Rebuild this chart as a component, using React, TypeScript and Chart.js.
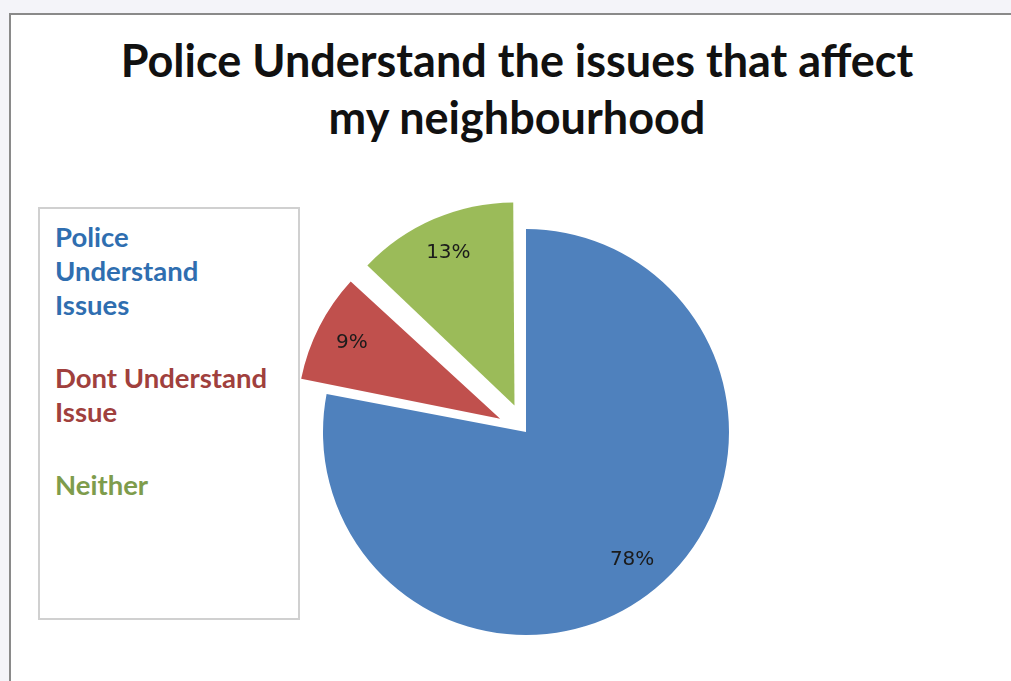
import React, { useEffect, useRef } from "react";
import { Chart, registerables } from "chart.js";

Chart.register(...registerables);

const titleLines = ["Police Understand the issues that affect", "my neighbourhood"];
const categories = ["Police Understand Issues", "Dont Understand Issue", "Neither"];
const legendLines = [["Police", "Understand", "Issues"], ["Dont Understand", "Issue"], ["Neither"]];
const values = [78, 9, 13];
const sliceColors = ["#4f81bd", "#c0504d", "#9bbb59"];
const legendColors = ["#2f6eb0", "#a0403d", "#7e9c4c"];
// Chart.js 4 translates an arc by offset / 4 pixels
const explode = [0, 116, 116];
const pieRadius = 203;

// Chart.js enlarges the outer radius of exploded arcs; keep them at the pie radius
const explodeFixPlugin = {
  id: "explodeFix",
  beforeDatasetsDraw(chart: any) {
    const meta = chart.getDatasetMeta(0);
    meta.data.forEach((arc: any) => {
      const off = (arc.options.offset || 0) / 4;
      if (!off) return;
      const circ = arc.circumference;
      const fix = 1 - Math.sin(Math.min(Math.PI, circ || 0));
      arc.outerRadius = pieRadius - off * fix;
    });
  },
};

const pctPlugin = {
  id: "pctLabels",
  afterDatasetsDraw(chart: any) {
    const ctx = chart.ctx;
    const meta = chart.getDatasetMeta(0);
    ctx.save();
    ctx.font = "20px 'DejaVu Sans'";
    ctx.fillStyle = "#1b1b1b";
    ctx.textAlign = "center";
    ctx.textBaseline = "middle";
    meta.data.forEach((arc: any, i: number) => {
      const { x, y, startAngle, endAngle } = arc.getProps(
        ["x", "y", "startAngle", "endAngle"],
        true
      );
      const mid = (startAngle + endAngle) / 2;
      const off = (arc.options.offset || 0) / 4;
      const d = off + pieRadius * 0.82;
      ctx.fillText(values[i] + "%", x + Math.cos(mid) * d, y + Math.sin(mid) * d);
    });
    ctx.restore();
  },
};

export default function App() {
  const ref = useRef<HTMLCanvasElement>(null);
  useEffect(() => {
    if (!ref.current) return;
    const chart = new Chart(ref.current, {
      type: "pie",
      data: {
        labels: categories,
        datasets: [
          {
            data: values,
            backgroundColor: sliceColors,
            borderWidth: 0,
            offset: explode,
            radius: pieRadius,
          } as any,
        ],
      },
      options: {
        animation: false,
        responsive: false,
        radius: pieRadius,
        layout: { padding: { left: 300, right: 259, top: 200, bottom: 17 } },
        plugins: {
          legend: { display: false },
          tooltip: { enabled: false },
          title: { display: false },
        },
      } as any,
      plugins: [explodeFixPlugin, pctPlugin],
    });
    return () => chart.destroy();
  }, []);

  return (
    <div
      style={{
        position: "fixed",
        left: 0,
        top: 0,
        width: 1011,
        height: 681,
        background: "#f4f4f9",
        overflow: "hidden",
      }}
    >
      <div
        style={{
          position: "absolute",
          left: 9,
          top: 13,
          width: 1100,
          height: 800,
          background: "#ffffff",
          borderLeft: "2px solid #8a8a8a",
          borderTop: "2px solid #8a8a8a",
        }}
      />
      <div
        style={{
          position: "absolute",
          left: 17,
          width: 1000,
          top: 32,
          textAlign: "center",
          fontFamily: "Lato, 'Open Sans', sans-serif",
          fontWeight: 700,
          fontSize: 45,
          lineHeight: "57px",
          color: "#111",
        }}
      >
        {titleLines.map((t, i) => (
          <div key={i}>{t}</div>
        ))}
      </div>
      <div
        style={{
          position: "absolute",
          left: 38,
          top: 207,
          width: 258,
          height: 409,
          border: "2px solid #d0d0d0",
          background: "#fff",
          boxSizing: "content-box",
          fontFamily: "Lato, 'Open Sans', sans-serif",
          fontWeight: 700,
          fontSize: 27.5,
          lineHeight: "34px",
        }}
      >
        <div style={{ paddingLeft: 15, paddingTop: 11 }}>
          {legendLines.map((lines, i) => (
            <div key={i} style={{ color: legendColors[i], marginBottom: 39 }}>
              {lines.map((l, j) => (
                <div key={j}>{l}</div>
              ))}
            </div>
          ))}
        </div>
      </div>
      <canvas
        ref={ref}
        width={1011}
        height={681}
        style={{ position: "absolute", left: 0, top: 0, width: 1011, height: 681 }}
      />
    </div>
  );
}
